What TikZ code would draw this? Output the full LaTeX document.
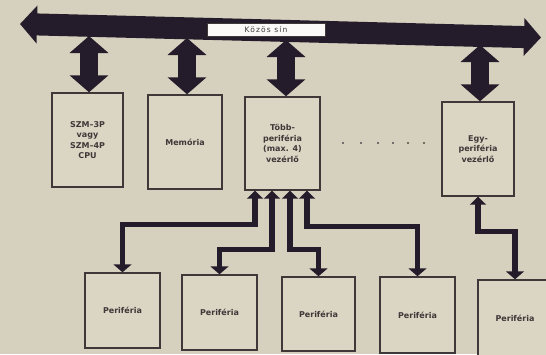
\documentclass[tikz,border=0pt]{standalone}
\usepackage{fontspec}
\setmainfont{DejaVu Sans}
\usetikzlibrary{arrows.meta}
\definecolor{bg}{RGB}{214,208,190}
\definecolor{boxfill}{RGB}{219,213,196}
\definecolor{ink}{RGB}{36,28,42}
\definecolor{edge}{RGB}{62,56,56}
\definecolor{txt}{RGB}{62,56,56}
\begin{document}
\begin{tikzpicture}[x=1pt,y=-1pt,
  box/.style={draw=edge, line width=1.4pt, fill=boxfill, inner sep=1pt,
    align=center, text=txt, font=\fontsize{8}{10.5}\selectfont\bfseries},
  bigarrow/.style={draw=ink, line width=18pt,
    {Triangle[width=38pt,length=17pt]}-{Triangle[width=38pt,length=17pt]}},
  link/.style={draw=ink, line width=5.5pt,
    {Triangle[width=16pt,length=8pt]}-{Triangle[width=18pt,length=8pt]}},
  dotmark/.style={fill=gray!60!black}]
\useasboundingbox (0,0) rectangle (546,354);
\clip (0,0) rectangle (546,354);
\fill[bg] (0,0) rectangle (546,354);

% bus
\coordinate (busL) at (20,24);
\coordinate (busR) at (541,37.5);
\draw[draw=ink, line width=22pt,
  {Triangle[width=37pt,length=17pt]}-{Triangle[width=37pt,length=17pt]}] (busL) -- (busR);
\node[draw=edge, line width=0.8pt, fill=white!88!bg, minimum width=118pt,
  minimum height=13pt, inner sep=0pt, text=txt,
  font=\fontsize{7.5}{8}\selectfont\addfontfeature{LetterSpace=15}] (lbl) at (266,30) {Közös sín};

% upper boxes
\node[box, minimum width=71pt, minimum height=94pt] (cpu) at (87.5,140)
  {SZM--3P\\vagy\\SZM--4P\\CPU};
\node[box, minimum width=74pt, minimum height=94pt] (mem) at (185,142) {Memória};
\node[box, minimum width=75pt, minimum height=93pt] (tobb) at (282.5,143.5)
  {Több-\\periféria\\(max. 4)\\vezérlő};
\node[box, minimum width=72pt, minimum height=94pt] (egy) at (478,149)
  {Egy-\\periféria\\vezérlő};

% bus-to-box arrows
\coordinate (t1) at (89,36);
\coordinate (t2) at (187,38);
\coordinate (t3) at (286,40);
\coordinate (t4) at (480,45);
\draw[bigarrow] (t1) -- (t1 |- cpu.north);
\draw[bigarrow] (t2) -- (t2 |- mem.north);
\draw[bigarrow] (t3) -- (t3 |- tobb.north);
\draw[bigarrow] (t4) -- (t4 |- egy.north);

% dots
\foreach \x in {343,361,378,393,408,424} \fill[dotmark] (\x,143) circle (1.2);

% peripheral boxes
\node[box, minimum width=75pt, minimum height=75pt] (p1) at (122.5,310.5) {Periféria};
\node[box, minimum width=75pt, minimum height=75pt] (p2) at (219.5,312.5) {Periféria};
\node[box, minimum width=73pt, minimum height=74pt] (p3) at (318.5,314) {Periféria};
\node[box, minimum width=75pt, minimum height=76pt] (p4) at (417.5,315) {Periféria};
\node[box, minimum width=74pt, minimum height=76pt] (p5) at (515,318) {Periféria};

% links
\draw[link] ([xshift=-27.5pt]tobb.south) |- ([yshift=48pt]p1.north) -- (p1.north);
\draw[link] ([xshift=-10.5pt]tobb.south) |- ([yshift=25pt]p2.north) -- (p2.north);
\draw[link] ([xshift=7.5pt]tobb.south) |- ([yshift=27pt]p3.north) -- (p3.north);
\draw[link] ([xshift=24.5pt]tobb.south) |- ([yshift=50pt]p4.north) -- (p4.north);
\draw[link] (egy.south) |- ([yshift=48pt]p5.north) -- (p5.north);
\end{tikzpicture}
\end{document}
